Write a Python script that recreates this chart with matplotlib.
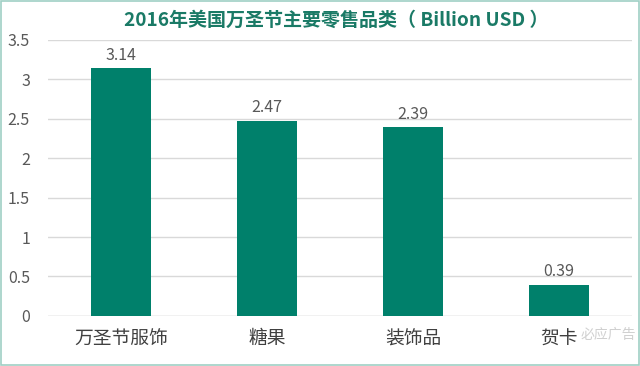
import matplotlib
matplotlib.use("Agg")
import matplotlib.pyplot as plt
from matplotlib.patches import Rectangle

plt.rcParams['font.family'] = ['Noto Sans CJK SC', 'DejaVu Sans']

# 数据
categories = ['万圣节服饰', '糖果', '装饰品', '贺卡']
values = [3.14, 2.47, 2.39, 0.39]
yticks = [0, 0.5, 1, 1.5, 2, 2.5, 3, 3.5]

bar_color = '#00806b'
text_gray = '#595959'

fig = plt.figure(figsize=(6.4, 3.66), dpi=100)
ax = fig.add_axes([0.075, 0.137, 0.9125, 0.754])

x = range(len(categories))
bars = ax.bar(x, values, width=0.41, color=bar_color, zorder=3)

for xi, v in zip(x, values):
    ax.text(xi, v + 0.06, f'{v:.2f}', ha='center', va='bottom',
            fontsize=11.5, color=text_gray)

ax.set_xlim(-0.5, len(categories) - 0.5)
ax.set_ylim(0, 3.5)
ax.set_yticks(yticks)
ax.set_yticklabels([f'{t:g}' for t in yticks], fontsize=11.5, color=text_gray)
ax.set_xticks(list(x))
ax.set_xticklabels(categories, fontsize=13.5, color='#404040')
ax.tick_params(axis='y', length=0, pad=13)
ax.tick_params(axis='x', length=0, pad=9)
ax.grid(axis='y', color='#d9d9d9', linewidth=1, zorder=0)
for s in ax.spines.values():
    s.set_visible(False)
ax.axhline(0, color='#d9d9d9', linewidth=1, zorder=1)

fig.text(0.525, 0.945, '2016年美国万圣节主要零售品类（ Billion USD ）',
         ha='center', va='center', fontsize=13.7, fontweight='bold', color='#1a7a66')

# 水印
fig.text(0.95, 0.085, '必应广告', ha='center', va='center',
         fontsize=10, color='#d0d0d0', zorder=5)

# 外框
fig.patches.append(Rectangle((0.002, 0.003), 0.996, 0.994, transform=fig.transFigure,
                             fill=False, edgecolor='#9fcfc5', linewidth=1.2))

fig.savefig('out.png', dpi=100)
